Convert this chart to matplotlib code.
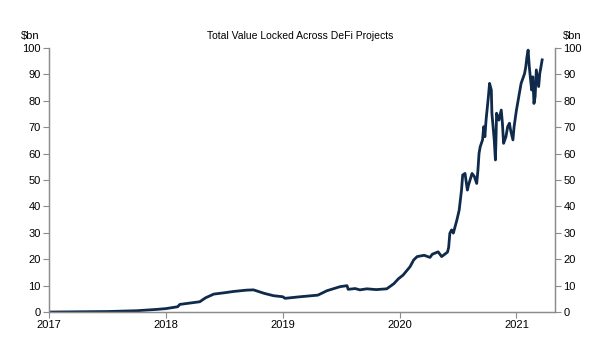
import matplotlib.pyplot as plt

plt.rcParams['font.family'] = ['Liberation Sans', 'DejaVu Sans']

# decimal year, TVL in $bn
years = [2017.0, 2017.25, 2017.5, 2017.75, 2017.92, 2018.0, 2018.10, 2018.12, 2018.29,
         2018.34, 2018.41, 2018.50, 2018.58, 2018.69, 2018.75, 2018.84, 2018.92, 2019.0,
         2019.02, 2019.15, 2019.30, 2019.38, 2019.49, 2019.55, 2019.56, 2019.62, 2019.66,
         2019.72, 2019.80, 2019.89, 2019.95, 2019.99, 2020.03, 2020.09, 2020.12, 2020.15,
         2020.21, 2020.26, 2020.28, 2020.33, 2020.36, 2020.41, 2020.42, 2020.43, 2020.445,
         2020.46, 2020.49, 2020.51, 2020.53, 2020.54, 2020.56, 2020.58, 2020.59, 2020.62,
         2020.64, 2020.66, 2020.67, 2020.68, 2020.69, 2020.71, 2020.72, 2020.73, 2020.74,
         2020.76, 2020.77, 2020.785, 2020.79, 2020.81, 2020.82, 2020.825, 2020.83, 2020.85,
         2020.87, 2020.88, 2020.89, 2020.91, 2020.925, 2020.94, 2020.95, 2020.97, 2020.98,
         2021.00, 2021.01, 2021.03, 2021.04, 2021.06, 2021.07, 2021.08, 2021.09, 2021.10,
         2021.11, 2021.13, 2021.14, 2021.15, 2021.16, 2021.17, 2021.19, 2021.20, 2021.21,
         2021.22]
tvl = [0.0, 0.1, 0.2, 0.5, 1.0, 1.3, 2.0, 2.9, 3.9,
       5.4, 6.8, 7.3, 7.8, 8.3, 8.4, 7.1, 6.2, 5.8,
       5.2, 5.8, 6.4, 8.1, 9.6, 10.0, 8.6, 8.9, 8.4,
       8.8, 8.5, 8.8, 10.7, 12.6, 14.0, 17.2, 19.7, 21.0,
       21.5, 20.7, 21.9, 22.8, 21.0, 22.7, 24.5, 29.8, 31.1,
       29.9, 34.8, 38.6, 46.2, 51.9, 52.5, 46.2, 48.1, 52.5,
       51.3, 48.7, 53.5, 60.1, 62.6, 65.2, 70.2, 66.4, 72.7,
       81.6, 86.6, 84.1, 75.3, 65.2, 57.6, 65.2, 75.3, 72.7,
       76.5, 71.5, 63.9, 66.4, 70.2, 71.5, 68.9, 65.2, 70.2,
       76.5, 79.0, 84.1, 86.6, 89.1, 90.4, 92.9, 96.7, 99.2,
       92.9, 84.1, 89.1, 79.0, 81.6, 91.7, 85.4, 90.4, 92.9,
       95.5]

year_ticks = [2017, 2018, 2019, 2020, 2021]
y_ticks = list(range(0, 101, 10))

fig = plt.figure(figsize=(6, 3.53), dpi=100)
ax = fig.add_axes([0.0817, 0.116, 0.8433, 0.748])
ax.plot(years, tvl, color='#0f2a4a', linewidth=2.0)

ax.set_xlim(2017, 2021.33)
ax.set_ylim(0, 100)
ax.set_xticks(year_ticks)
ax.set_xticklabels([str(y) for y in year_ticks])
ax.set_yticks(y_ticks)

ax2 = ax.twinx()
ax2.set_ylim(0, 100)
ax2.set_yticks(y_ticks)

for a in (ax, ax2):
    a.spines['top'].set_visible(False)
    for s in ('left', 'right', 'bottom'):
        a.spines[s].set_color('#8c8c8c')
        a.spines[s].set_linewidth(0.9)
    a.tick_params(axis='both', colors='#8c8c8c', labelcolor='black',
                  labelsize=8, length=4, width=0.8, pad=2)

fig.text(0.05, 0.898, r'\$bn', fontsize=8, ha='center', va='center')
fig.text(0.953, 0.898, r'\$bn', fontsize=8, ha='center', va='center')
fig.text(0.5, 0.898, 'Total Value Locked Across DeFi Projects', fontsize=7.5,
         ha='center', va='center')

fig.savefig('out.png', dpi=100)
